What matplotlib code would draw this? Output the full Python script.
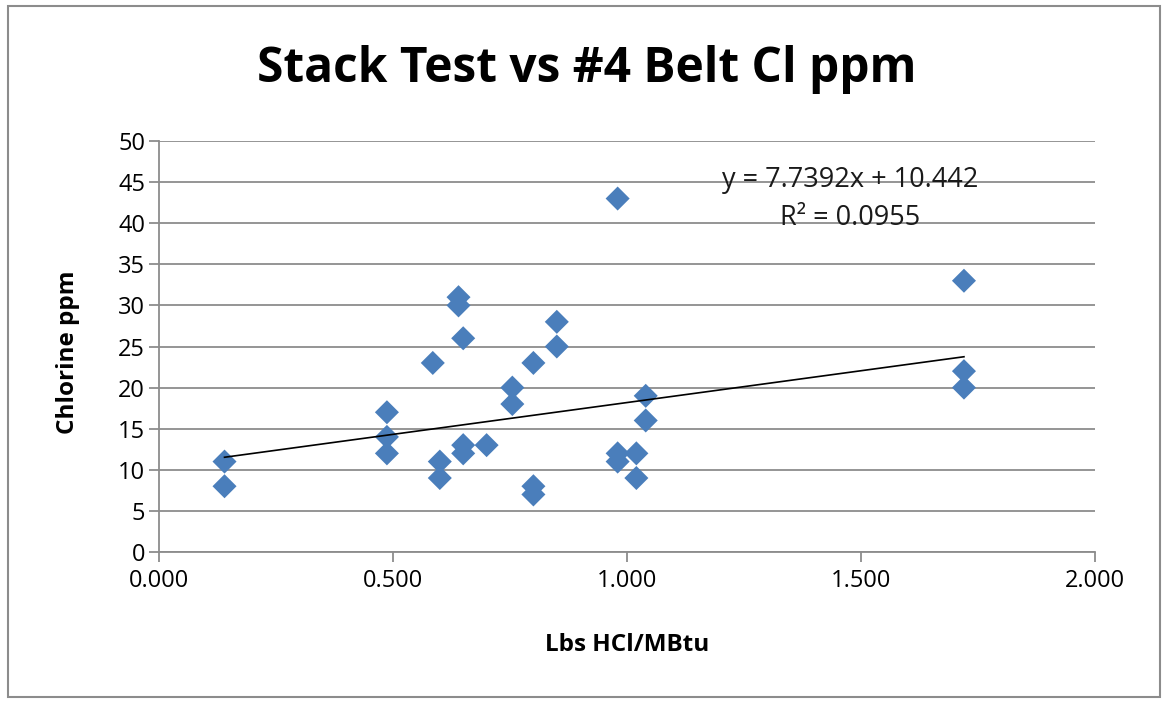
import matplotlib
matplotlib.use("Agg")
import matplotlib.pyplot as plt
from matplotlib.patches import Rectangle
import numpy as np

# Data
lbs_hcl = [0.14, 0.14,
           0.487, 0.487, 0.487,
           0.585,
           0.60, 0.60,
           0.64, 0.64,
           0.65, 0.65, 0.65,
           0.70,
           0.755, 0.755,
           0.80, 0.80, 0.80,
           0.85, 0.85,
           0.98, 0.98, 0.98,
           1.02, 1.02,
           1.04, 1.04,
           1.72, 1.72, 1.72]
chlorine_ppm = [11, 8,
                17, 14, 12,
                23,
                11, 9,
                31, 30,
                26, 13, 12,
                13,
                20, 18,
                23, 8, 7,
                28, 25,
                43, 12, 11,
                12, 9,
                19, 16,
                33, 22, 20]
slope = 7.7392
intercept = 10.442
r_squared = 0.0955
x_ticks = [0.0, 0.5, 1.0, 1.5, 2.0]
x_tick_labels = ["0.000", "0.500", "1.000", "1.500", "2.000"]
y_ticks = [0, 5, 10, 15, 20, 25, 30, 35, 40, 45, 50]

W, H = 1165, 703
fig = plt.figure(figsize=(W / 100, H / 100), dpi=100)
fig.patch.set_facecolor("white")

# outer border of the chart area
fig.patches.append(Rectangle((8 / W, 6 / H), (1160 - 8) / W, (697 - 6) / H,
                             transform=fig.transFigure, fill=False,
                             edgecolor="#8c8c8c", linewidth=1.5))

left, right, top, bottom = 159, 1095, 141, 552
ax = fig.add_axes([left / W, 1 - bottom / H, (right - left) / W, (bottom - top) / H])

ax.set_xlim(0, 2.0)
ax.set_ylim(0, 50)
ax.set_yticks(y_ticks)
ax.set_xticks(x_ticks)
ax.set_xticklabels(x_tick_labels)

grid_color = "#8c8c8c"
ax.yaxis.grid(True, color=grid_color, linewidth=1.3)
ax.xaxis.grid(False)
ax.set_axisbelow(True)
for s in ["top", "right"]:
    ax.spines[s].set_visible(False)
for s in ["left", "bottom"]:
    ax.spines[s].set_color(grid_color)
    ax.spines[s].set_linewidth(1.3)

ax.tick_params(axis="x", direction="out", length=7, color=grid_color, width=1.3,
               labelsize=17, pad=5)
ax.tick_params(axis="y", direction="out", length=7, color=grid_color, width=1.3,
               labelsize=17, pad=3)
for lab in ax.get_xticklabels() + ax.get_yticklabels():
    lab.set_family("Open Sans")

ax.scatter(lbs_hcl, chlorine_ppm, marker="D", s=150, color="#4a7ebb",
           edgecolors="none", zorder=3)

xs = np.array([min(lbs_hcl), max(lbs_hcl)])
ax.plot(xs, slope * xs + intercept, color="black", linewidth=1.2, zorder=4)

ax.text(1.476, 45.3, f"y = {slope}x + {intercept}", ha="center", va="center",
        fontsize=19.5, family="Open Sans", color="#1a1a1a", zorder=5)
ax.text(1.476, 40.6, f"R\u00b2 = {r_squared}", ha="center", va="center",
        fontsize=19.5, family="Open Sans", color="#1a1a1a", zorder=5)

ax.set_xlabel("Lbs HCl/MBtu", fontsize=17.5, fontweight="bold", family="Open Sans")
ax.set_ylabel("Chlorine ppm", fontsize=17.5, fontweight="bold", family="Open Sans")
ax.xaxis.set_label_coords((627 - left) / (right - left), -(645 - bottom) / (bottom - top))
ax.yaxis.set_label_coords(-(left - 68) / (right - left), (bottom - 352) / (bottom - top))
ax.xaxis.label.set_va("center")
ax.yaxis.label.set_va("center")

fig.text(587 / W, 1 - 70 / H, "Stack Test vs #4 Belt Cl ppm", ha="center",
         va="center", fontsize=34.5, fontweight="bold", family="Open Sans")

fig.savefig("out.png", dpi=100)
